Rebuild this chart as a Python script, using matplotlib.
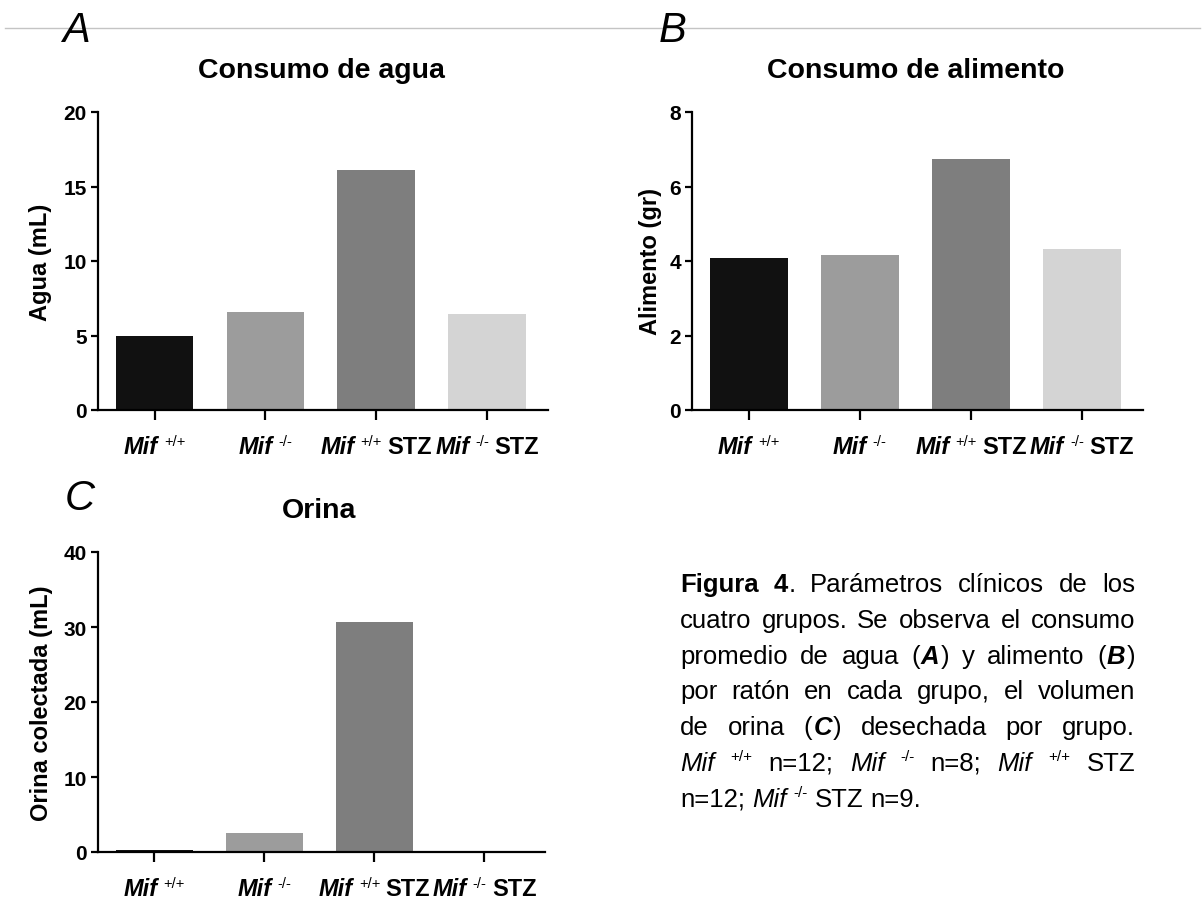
import matplotlib
matplotlib.use("Agg")
import matplotlib.pyplot as plt
from matplotlib.lines import Line2D

plt.rcParams['font.family'] = ['Liberation Sans', 'DejaVu Sans']

W, H = 1204, 912

# groups: genotype superscript + treatment
genotype = ["+/+", "-/-", "+/+", "-/-"]
treatment = ["", "", "STZ", "STZ"]
bar_colors = ["#111111", "#9c9c9c", "#7e7e7e", "#d4d4d4"]

agua = [4.95, 6.6, 16.1, 6.45]
alimento = [4.09, 4.15, 6.74, 4.33]
orina = [0.25, 2.6, 30.7, 0.08]

agua_ticks = [0, 5, 10, 15, 20]
alimento_ticks = [0, 2, 4, 6, 8]
orina_ticks = [0, 10, 20, 30, 40]

fig = plt.figure(figsize=(W / 100, H / 100), dpi=100)
renderer = fig.canvas.get_renderer()


def fpos(x, y):
    return x / W, 1 - y / H


def width_of(s, **kw):
    t = fig.text(0, 0, s, **kw)
    w = t.get_window_extent(renderer).width
    t.remove()
    return w


def space_of(**kw):
    return width_of("n n", **kw) - width_of("nn", **kw)


def draw_runs(x, y, runs, center=False):
    # runs: (text, props, rise in px); text None means a gap of props px
    widths = []
    for s, p, r in runs:
        widths.append(p if s is None else width_of(s, **p))
    if center:
        x -= sum(widths) / 2
    for (s, p, r), w in zip(runs, widths):
        if s is not None:
            fig.text(*fpos(x, y - r), s, ha='left', va='baseline', **p)
        x += w


LBL = dict(size=17, weight='bold', style='italic')
LBL_UP = dict(size=17, weight='bold')
SUP = dict(size=10.5)
sp_lbl = space_of(**LBL)


def group_runs(i):
    runs = [("Mif", LBL, 0), (None, sp_lbl * 0.9, 0), (genotype[i], SUP, 8)]
    if treatment[i]:
        runs += [(None, sp_lbl * 0.8, 0), (treatment[i], LBL_UP, 0)]
    return runs


panels = [
    dict(box=(98, 113, 548, 411), vals=agua, ticks=agua_ticks,
         title="Consumo de agua", ylabel="Agua (mL)", letter="A",
         letter_xy=(62, 42), title_y=78, ylabel_x=40),
    dict(box=(692, 113, 1143, 411), vals=alimento, ticks=alimento_ticks,
         title="Consumo de alimento", ylabel="Alimento (gr)", letter="B",
         letter_xy=(659, 42), title_y=78, ylabel_x=650),
    dict(box=(98, 553, 545, 853), vals=orina, ticks=orina_ticks,
         title="Orina", ylabel="Orina colectada (mL)", letter="C",
         letter_xy=(65, 510), title_y=518, ylabel_x=42),
]

for pnl in panels:
    x0, y0, x1, y1 = pnl["box"]
    ax = fig.add_axes([x0 / W, 1 - y1 / H, (x1 - x0) / W, (y1 - y0) / H])
    ax.bar(range(4), pnl["vals"], width=0.70, color=bar_colors)
    ax.set_xlim(-0.51, 3.55)
    ax.set_ylim(pnl["ticks"][0], pnl["ticks"][-1])
    ax.set_yticks(pnl["ticks"])
    ax.set_yticklabels([str(t) for t in pnl["ticks"]], fontsize=15, fontweight='bold')
    ax.set_xticks(range(4))
    ax.set_xticklabels([])
    for side in ("top", "right"):
        ax.spines[side].set_visible(False)
    for side in ("left", "bottom"):
        ax.spines[side].set_linewidth(1.6)
    ax.tick_params(axis='y', length=5, width=1.6, pad=3)
    ax.tick_params(axis='x', length=7, width=1.6)
    ax.patch.set_alpha(0)

    fig.text(*fpos((x0 + x1) / 2 - 2, pnl["title_y"]), pnl["title"],
             ha='center', va='baseline', fontsize=20.5, fontweight='bold')
    fig.text(*fpos(pnl["ylabel_x"], (y0 + y1) / 2), pnl["ylabel"], rotation=90,
             ha='center', va='center', fontsize=17, fontweight='bold')
    fig.text(*fpos(*pnl["letter_xy"]), pnl["letter"], ha='left', va='baseline',
             fontsize=30, style='italic')

    for i in range(4):
        xt = ax.transData.transform((i, 0))[0]
        draw_runs(xt, y1 + 43, group_runs(i), center=True)

# thin rule across the top of the page
fig.add_artist(Line2D([5 / W, 1200 / W], [1 - 29 / H] * 2, color='#c4c4c4', lw=1))

# caption, justified block
CS = 18.5
R = dict(size=CS)
B = dict(size=CS, weight='bold')
BI = dict(size=CS, weight='bold', style='italic')
I = dict(size=CS, style='italic')
S = dict(size=11)

caption = [
    [[("Figura", B)], [("4", B), (".", R)], [("Parámetros", R)], [("clínicos", R)],
     [("de", R)], [("los", R)]],
    [[(w, R)] for w in "cuatro grupos. Se observa el consumo".split()],
    [[("promedio", R)], [("de", R)], [("agua", R)], [("(", R), ("A", BI), (")", R)],
     [("y", R)], [("alimento", R)], [("(", R), ("B", BI), (")", R)]],
    [[(w, R)] for w in "por ratón en cada grupo, el volumen".split()],
    [[("de", R)], [("orina", R)], [("(", R), ("C", BI), (")", R)], [("desechada", R)],
     [("por", R)], [("grupo.", R)]],
    [[("Mif", I)], [("+/+", S)], [("n=12;", R)], [("Mif", I)], [("-/-", S)],
     [("n=8;", R)], [("Mif", I)], [("+/+", S)], [("STZ", R)]],
    [[("n=12;", R)], [("Mif", I)], [("-/-", S)], [("STZ", R)], [("n=9.", R)]],
]

cap_left, cap_right = 680, 1135
cap_base, cap_step = 592, 35.8
sp_cap = space_of(**R)

for k, line in enumerate(caption):
    word_w = []
    for word in line:
        word_w.append(sum(width_of(s, **p) + 1 for s, p in word) - 1)
    last = k == len(caption) - 1
    gap = sp_cap if last else (cap_right - cap_left - sum(word_w)) / (len(line) - 1)
    x = cap_left
    y = cap_base + k * cap_step
    for word, ww in zip(line, word_w):
        runs = []
        for s, p in word:
            rise = 10 if p is S else 0
            runs.append((s, p, rise))
            runs.append((None, 1, 0))
        draw_runs(x, y, runs[:-1])
        x += ww + gap

fig.savefig("out.png", dpi=100, facecolor='white')
